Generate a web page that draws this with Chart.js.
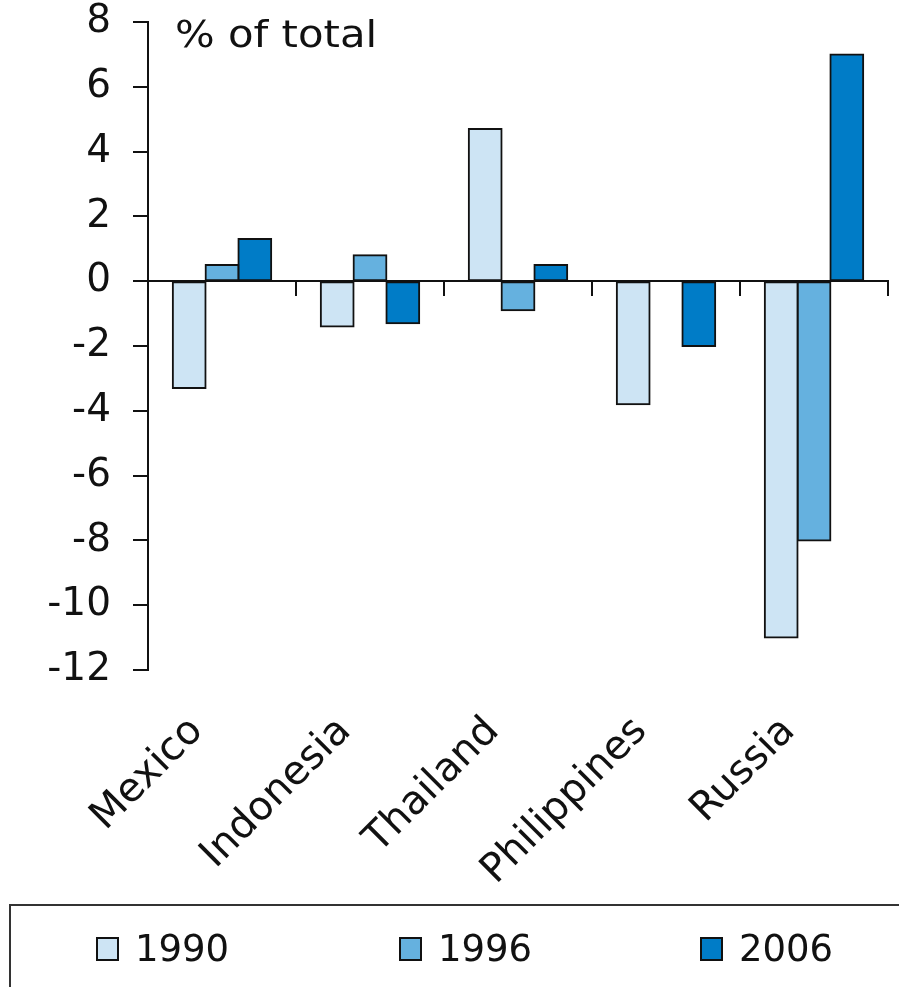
<!DOCTYPE html>
<html>
<head>
<meta charset="utf-8">
<script src="https://cdn.jsdelivr.net/npm/chart.js@4.4.1/dist/chart.umd.min.js"></script>
<style>
  html, body { margin: 0; padding: 0; background: #ffffff; }
  canvas { display: block; }
</style>
</head>
<body>
<canvas id="chart" width="899" height="987"></canvas>
<script>
// Country categories and change in share (% of total) by year
const categories = ['Mexico', 'Indonesia', 'Thailand', 'Philippines', 'Russia'];
const seriesLabels = ['1990', '1996', '2006'];
const values1990 = [-3.3, -1.4, 4.7, -3.8, -11.0];
const values1996 = [0.5, 0.8, -0.9, 0, -8.0];
const values2006 = [1.3, -1.3, 0.5, -2.0, 7.0];
const seriesColors = ['#cde4f4', '#65b1df', '#007cc7'];
const yTicks = [8, 6, 4, 2, 0, -2, -4, -6, -8, -10, -12];
const unitLabel = '% of total';

const FONT = '"DejaVu Sans", Verdana, sans-serif';
const INK = '#111111';

// Unit label drawn in the top-left corner of the plot area
const unitLabelPlugin = {
  id: 'unitLabel',
  afterDraw(chart) {
    const { ctx, chartArea } = chart;
    ctx.save();
    ctx.fillStyle = INK;
    ctx.font = '38px ' + FONT;
    ctx.textBaseline = 'alphabetic';
    ctx.textAlign = 'left';
    ctx.translate(chartArea.left + 27, 47);
    ctx.scale(1.1, 1);
    ctx.fillText(unitLabel, 0, 0);
    ctx.restore();
  }
};

// Boxed legend along the bottom edge
const boxedLegendPlugin = {
  id: 'boxedLegend',
  afterDraw(chart) {
    const { ctx } = chart;
    const top = chart.height - 82;
    ctx.save();
    ctx.strokeStyle = '#333333';
    ctx.lineWidth = 2;
    ctx.strokeRect(10, top, chart.width + 10, 200);
    ctx.font = '37px ' + FONT;
    ctx.textBaseline = 'middle';
    ctx.textAlign = 'left';
    const starts = [97, 400, 701];
    chart.data.datasets.forEach((ds, i) => {
      const x = starts[i];
      const cy = top + 44;
      ctx.fillStyle = ds.backgroundColor;
      ctx.fillRect(x, cy - 11, 21, 22);
      ctx.lineWidth = 2;
      ctx.strokeStyle = INK;
      ctx.strokeRect(x, cy - 11, 21, 22);
      ctx.fillStyle = INK;
      ctx.fillText(ds.label, x + 38, cy + 2);
    });
    ctx.restore();
  }
};

new Chart(document.getElementById('chart'), {
  type: 'bar',
  data: {
    labels: categories,
    datasets: [values1990, values1996, values2006].map((vals, i) => ({
      label: seriesLabels[i],
      data: vals,
      backgroundColor: seriesColors[i],
      borderColor: INK,
      borderWidth: 2,
      borderSkipped: false,
      inflateAmount: 1,
      barPercentage: 1.0,
      categoryPercentage: 0.665
    }))
  },
  options: {
    responsive: false,
    animation: false,
    layout: { padding: { top: 0, right: 11, bottom: 0, left: 0 } },
    plugins: {
      legend: { display: false },
      tooltip: { enabled: false },
      title: { display: false }
    },
    scales: {
      x: {
        type: 'category',
        position: 'bottom',
        offset: true,
        border: { display: false },
        grid: { display: false },
        ticks: {
          color: INK,
          font: { family: FONT, size: 40 },
          minRotation: 45,
          maxRotation: 45,
          autoSkip: false,
          padding: 30,
          labelOffset: -25
        },
        afterFit(scale) { scale.height = 317; }
      },
      xZero: {
        type: 'category',
        axis: 'x',
        position: { y: 0 },
        offset: true,
        border: { display: true, color: INK, width: 2 },
        grid: {
          offset: true,
          drawOnChartArea: false,
          drawTicks: true,
          tickLength: 14,
          color: INK,
          lineWidth: 2
        },
        ticks: { display: false }
      },
      y: {
        min: -12,
        max: 8,
        afterBuildTicks(scale) { scale.ticks = yTicks.map(v => ({ value: v })); },
        border: { display: true, color: INK, width: 2 },
        grid: {
          drawOnChartArea: false,
          drawTicks: true,
          tickLength: 15,
          color: INK,
          lineWidth: 2
        },
        ticks: {
          color: INK,
          font: { family: FONT, size: 39, lineHeight: 1.13 },
          padding: 22,
          callback: v => String(v)
        },
        afterFit(scale) {
          scale.width = 148;
          scale.paddingTop = 22;
        }
      }
    }
  },
  plugins: [unitLabelPlugin, boxedLegendPlugin]
});
</script>
</body>
</html>
